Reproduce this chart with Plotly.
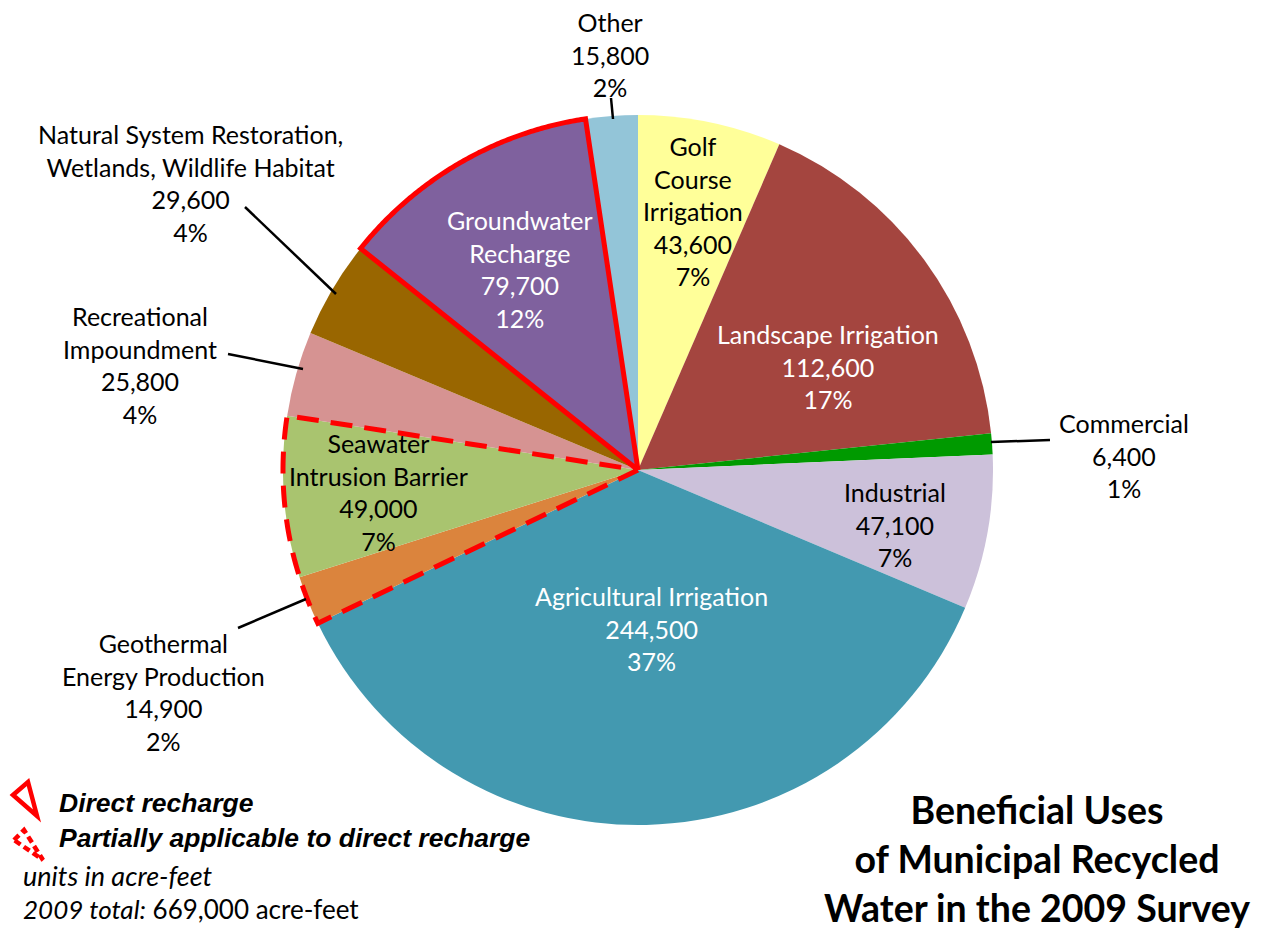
import numpy as np
import plotly.graph_objects as go

# ---------------- data ----------------
categories = ["Golf Course Irrigation", "Landscape Irrigation", "Commercial", "Industrial",
              "Agricultural Irrigation", "Geothermal Energy Production", "Seawater Intrusion Barrier",
              "Recreational Impoundment", "Natural System Restoration, Wetlands, Wildlife Habitat",
              "Groundwater Recharge", "Other"]
label_lines = ["Golf<br>Course<br>Irrigation", "Landscape Irrigation", "Commercial", "Industrial",
               "Agricultural Irrigation", "Geothermal<br>Energy Production", "Seawater<br>Intrusion Barrier",
               "Recreational<br>Impoundment", "Natural System Restoration,<br>Wetlands, Wildlife Habitat",
               "Groundwater<br>Recharge", "Other"]
values = [43600, 112600, 6400, 47100, 244500, 14900, 49000, 25800, 29600, 79700, 15800]
colors = ["#FFFF99", "#A4453F", "#009A00", "#CCC1DA", "#4399B0", "#DB843D", "#A9C46F",
          "#D69392", "#996600", "#7F619E", "#93C5D8"]
direct_recharge = ["Groundwater Recharge"]
partial_recharge = ["Geothermal Energy Production", "Seawater Intrusion Barrier"]

# page has an 8px body margin: figure is placed at (8, 8)
OFF = 8
W, H = 1265 - OFF, 930 - OFF
def X(px):
    return (px - OFF) / W
def Y(py):
    return 1 - (py - OFF) / H

# pie geometry (layout); radial axis extends a little beyond the pie so outlines are not clipped
cx, cy, R = 638, 470, 355
RMAX = 1.03
Rd = R * RMAX
dom_x = [X(cx - Rd), X(cx + Rd)]
dom_y = [Y(cy + Rd), Y(cy - Rd)]

total = sum(values)
cum = np.concatenate([[0], np.cumsum(values)])
ang0 = cum[:-1] / total * 360
span = np.array(values) / total * 360

fig = go.Figure()
fig.add_trace(go.Barpolar(
    theta=ang0 + span / 2, width=span, r=[1] * len(values), base=0,
    marker=dict(color=colors, line=dict(width=0)),
    customdata=np.array(values), text=categories,
    hovertemplate="%{text}: %{customdata:,}<extra></extra>", showlegend=False))

# outlines computed from the data
def outline(names):
    idx = [categories.index(n) for n in names]
    a0 = cum[min(idx)] / total * 360
    a1 = cum[max(idx) + 1] / total * 360
    arc = np.linspace(a0, a1, 120)
    theta = np.concatenate([[a0], arc, [a1, a0]])
    r = np.concatenate([[0], np.ones_like(arc), [0, 0]])
    return theta, r

th, rr = outline(direct_recharge)
fig.add_trace(go.Scatterpolar(theta=th, r=rr, mode="lines", cliponaxis=False,
                              line=dict(color="#FF0000", width=5),
                              hoverinfo="skip", showlegend=False))
th, rr = outline(partial_recharge)
fig.add_trace(go.Scatterpolar(theta=th, r=rr, mode="lines", cliponaxis=False,
                              line=dict(color="#FF0000", width=5, dash="22px,12px"),
                              hoverinfo="skip", showlegend=False))

# ---------------- labels ----------------
label_pos = {  # (x px, y px, text color) in reference pixels
    "Golf Course Irrigation": (693, 211, "black"),
    "Landscape Irrigation": (828, 367, "white"),
    "Commercial": (1124, 455, "black"),
    "Industrial": (895, 524, "black"),
    "Agricultural Irrigation": (651, 628, "white"),
    "Geothermal Energy Production": (163, 692, "black"),
    "Seawater Intrusion Barrier": (378, 492, "black"),
    "Recreational Impoundment": (140, 365, "black"),
    "Natural System Restoration, Wetlands, Wildlife Habitat": (190, 183, "black"),
    "Groundwater Recharge": (520, 269, "white"),
    "Other": (610, 55, "black"),
}
FONT = "Lato"
LSIZE = 25
annotations = []
for name, lab, v in zip(categories, label_lines, values):
    px_, py_, col = label_pos[name]
    pct = round(v / total * 100)
    annotations.append(dict(
        x=X(px_), y=Y(py_), xref="paper", yref="paper", xanchor="center", yanchor="middle",
        text=f"{lab}<br>{v:,}<br>{pct}%", showarrow=False, align="center",
        font=dict(family=FONT, size=LSIZE, color=col)))

# footnotes
annotations += [
    dict(x=X(57), y=Y(803), xref="paper", yref="paper", xanchor="left", yanchor="middle",
         text="<b><i>Direct recharge</i></b>", showarrow=False,
         font=dict(family="Liberation Sans, Arial", size=26.5, color="black")),
    dict(x=X(57), y=Y(838), xref="paper", yref="paper", xanchor="left", yanchor="middle",
         text="<b><i>Partially applicable to direct recharge</i></b>", showarrow=False,
         font=dict(family="Liberation Sans, Arial", size=26.5, color="black")),
    dict(x=X(21), y=Y(875), xref="paper", yref="paper", xanchor="left", yanchor="middle",
         text="<i>units in acre-feet</i>", showarrow=False,
         font=dict(family=FONT, size=27, color="black")),
    dict(x=X(21), y=Y(909), xref="paper", yref="paper", xanchor="left", yanchor="middle",
         text=f"<i>2009 total:</i> {total:,} acre-feet", showarrow=False,
         font=dict(family=FONT, size=26, color="black")),
    dict(x=X(1037), y=Y(858), xref="paper", yref="paper", xanchor="center", yanchor="middle",
         text="<b>Beneficial Uses<br>of Municipal Recycled<br>Water in the 2009 Survey</b>",
         showarrow=False, align="center", font=dict(family=FONT, size=37.5, color="black")),
]

# leader lines
leaders = [((611, 98), (613, 119)), ((245, 207), (336, 294)), ((228, 354), (303, 369)),
           ((991, 442), (1050, 440)), ((238, 628), (306, 599))]
shapes = []
for (x0, y0), (x1, y1) in leaders:
    shapes.append(dict(type="line", xref="paper", yref="paper", x0=X(x0), y0=Y(y0), x1=X(x1), y1=Y(y1),
                       line=dict(color="black", width=2.5)))

# legend icons
def path(pts):
    return "M " + " L ".join(f"{X(a):.5f},{Y(b):.5f}" for a, b in pts) + " Z"
shapes.append(dict(type="path", xref="paper", yref="paper", path=path([(13, 795), (28, 782), (37, 816)]),
                   line=dict(color="#FF0000", width=4.5)))
shapes.append(dict(type="path", xref="paper", yref="paper", path=path([(14, 840), (24, 830), (43, 860)]),
                   line=dict(color="#FF0000", width=4.5, dash="7px,4px")))

fig.update_layout(
    width=W, height=H, margin=dict(l=0, r=0, t=0, b=0),
    paper_bgcolor="white", plot_bgcolor="white", template="none",
    polar=dict(domain=dict(x=dom_x, y=dom_y), bgcolor="rgba(0,0,0,0)", hole=0,
               radialaxis=dict(visible=False, range=[0, RMAX]),
               angularaxis=dict(visible=False, rotation=90, direction="clockwise")),
    annotations=annotations, shapes=shapes, showlegend=False,
)
fig.write_html("out.html")
